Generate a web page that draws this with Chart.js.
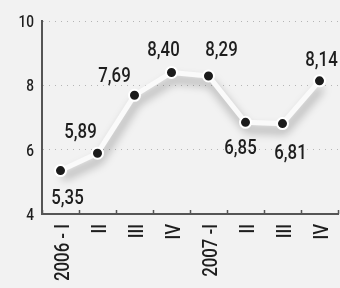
<!DOCTYPE html>
<html>
<head>
<meta charset="utf-8">
<script src="https://cdn.jsdelivr.net/npm/chart.js@4/dist/chart.umd.min.js"></script>
<style>
  body { margin: 0; background: #f2f2f2; }
  #wrap { width: 340px; height: 288px; position: relative; }
</style>
</head>
<body>
<div id="wrap"><canvas id="chart"></canvas></div>
<script>
const quarters = ['2006 - I', 'II', 'III', 'IV', '2007 -I', 'II', 'III', 'IV']
const values = [5.35, 5.89, 7.69, 8.40, 8.29, 6.85, 6.81, 8.14]
const yTicks = [4, 6, 8, 10]

// where each value label sits relative to its point (baseline, px)
const labelDx = [7, -17, -20, -8, 13, -5, 8, 2]
const labelDy = [33, -15, -13, -16, -20, 32, 35, -15]

const FONT = "Roboto, 'Liberation Sans', sans-serif"
const INK = '#1e1e1e'
const SQUEEZE = 0.8 // the original uses a condensed face

// draw condensed text by squeezing horizontally
function narrowText (ctx, txt, x, y, size, align, rotate) {
  ctx.save()
  ctx.translate(x, y)
  if (rotate) ctx.rotate(-Math.PI / 2)
  ctx.scale(SQUEEZE, 1)
  ctx.font = '500 ' + size + 'px ' + FONT
  ctx.fillStyle = INK
  ctx.textAlign = align
  ctx.textBaseline = 'alphabetic'
  ctx.fillText(txt, 0, 0)
  ctx.restore()
}

// soft shadow under the line only (dataset 0)
const lineShadow = {
  id: 'lineShadow',
  beforeDatasetDraw (chart, args) {
    if (args.index !== 0) return
    const ctx = chart.ctx
    ctx.save()
    ctx.shadowColor = 'rgba(0, 0, 0, 0.36)'
    ctx.shadowBlur = 10
    ctx.shadowOffsetX = 2
    ctx.shadowOffsetY = 7
  },
  afterDatasetDraw (chart, args) {
    if (args.index !== 0) return
    chart.ctx.restore()
  }
}

// tick marks pointing up from the x axis + all axis text
const axisText = {
  id: 'axisText',
  afterDraw (chart) {
    const x = chart.scales.x
    const y = chart.scales.y
    const ctx = chart.ctx
    const step = x.getPixelForValue(1) - x.getPixelForValue(0)
    ctx.save()
    ctx.strokeStyle = '#555'
    ctx.lineWidth = 1.5
    ctx.beginPath()
    for (let i = 0; i <= quarters.length; i++) {
      const px = Math.round(x.getPixelForValue(i) - step / 2) + 0.5
      ctx.moveTo(px, x.top)
      ctx.lineTo(px, x.top - 4)
    }
    ctx.stroke()
    ctx.restore()

    yTicks.forEach(v => {
      narrowText(ctx, String(v), y.right - 8, y.getPixelForValue(v) + 6, 17, 'right', false)
    })
    quarters.forEach((q, i) => {
      narrowText(ctx, q, x.getPixelForValue(i) + 8, x.top + 10, 21, 'right', true)
    })
  }
}

// value labels next to each point
const valueLabels = {
  id: 'valueLabels',
  afterDatasetsDraw (chart) {
    const meta = chart.getDatasetMeta(1)
    meta.data.forEach((pt, i) => {
      const txt = values[i].toFixed(2).replace('.', ',')
      narrowText(chart.ctx, txt, pt.x + labelDx[i], pt.y + labelDy[i], 21, 'center', false)
    })
  }
}

new Chart(document.getElementById('chart'), {
  type: 'line',
  data: {
    labels: quarters,
    datasets: [
      {
        data: values,
        borderColor: '#fafafa',
        borderWidth: 5,
        pointRadius: 0,
        tension: 0,
        order: 1
      },
      {
        data: values,
        showLine: false,
        pointRadius: 5.5,
        pointBorderWidth: 2,
        pointBackgroundColor: '#1b1b1b',
        pointBorderColor: '#ffffff',
        order: 0
      }
    ]
  },
  options: {
    responsive: true,
    maintainAspectRatio: false,
    animation: false,
    layout: { autoPadding: false, padding: { top: 21, right: 2, left: 0, bottom: 0 } },
    plugins: { legend: { display: false }, tooltip: { enabled: false } },
    scales: {
      x: {
        offset: true,
        grid: { display: false, drawTicks: false },
        border: { color: '#555', width: 2 },
        ticks: { display: false },
        afterFit: (s) => { s.height = 74 }
      },
      y: {
        min: yTicks[0],
        max: yTicks[yTicks.length - 1],
        afterBuildTicks: (s) => { s.ticks = yTicks.map(v => ({ value: v })) },
        grid: { color: '#b5b5b5', lineWidth: 1, drawTicks: false },
        border: { color: '#555', width: 2, dash: [1, 5] },
        ticks: { display: false },
        afterFit: (s) => { s.width = 42 }
      }
    }
  },
  plugins: [lineShadow, axisText, valueLabels]
})
</script>
</body>
</html>
